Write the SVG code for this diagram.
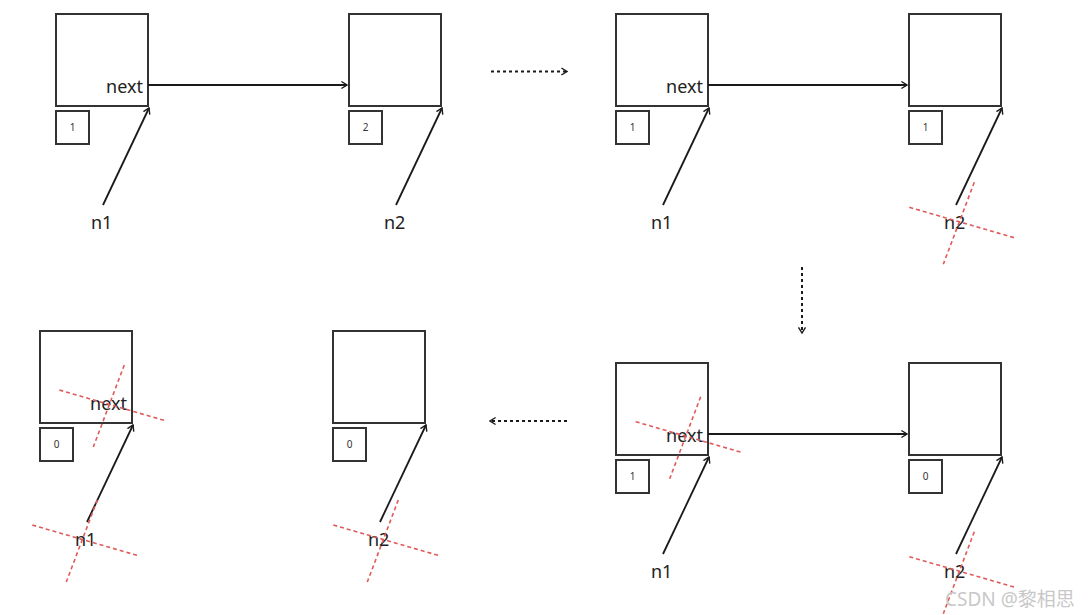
<svg xmlns="http://www.w3.org/2000/svg" width="1089" height="615" viewBox="0 0 1089 615">
<style>
.box{fill:#fff;stroke:#333;stroke-width:2}
.sbox{fill:#fff;stroke:#333;stroke-width:2}
.lbl{font-family:"Noto Sans","DejaVu Sans",sans-serif;font-size:18px;fill:#222}
.sm{font-family:"Noto Sans","DejaVu Sans",sans-serif;font-size:10px;fill:#333;text-anchor:middle}
.ar{stroke:#1a1a1a;stroke-width:1.8;fill:none;marker-end:url(#ah)}
.dot{stroke:#1a1a1a;stroke-width:2;fill:none;stroke-dasharray:3 3;marker-end:url(#ah)}
.x{stroke:#e05a5a;stroke-width:1.6;stroke-dasharray:4 3;fill:none}
.wm{font-family:"Noto Sans","Noto Sans CJK SC",sans-serif;font-size:19px;fill:#c8c8c8}
</style>
<defs>
<marker id="ah" viewBox="0 0 10 12" refX="9" refY="6" markerWidth="7" markerHeight="11" markerUnits="userSpaceOnUse" orient="auto">
<path d="M1,1 L9,6 L1,11" fill="none" stroke="#1a1a1a" stroke-width="2"/>
</marker>
<g id="cross">
<line class="x" x1="0" y1="0" x2="107" y2="31"/>
<line class="x" x1="65" y1="-25" x2="34" y2="57"/>
</g>
</defs>

<!-- Panel 1 -->
<g id="p1-node1">
<rect class="box" x="56" y="14" width="92" height="92"/>
<text class="lbl" x="143" y="93" text-anchor="end">next</text>
<rect class="sbox" x="56" y="111" width="33" height="33"/>
<text class="sm" x="72.5" y="131">1</text>
</g>
<g id="p1-node2">
<rect class="box" x="349" y="14" width="92" height="92"/>
<rect class="sbox" x="349" y="111" width="33" height="33"/>
<text class="sm" x="365.5" y="131">2</text>
</g>
<g id="p1-n1"><text class="lbl" x="91" y="229">n1</text></g>
<g id="p1-n2"><text class="lbl" x="384" y="229">n2</text></g>

<!-- Panel 2 -->
<g id="p2-node1">
<rect class="box" x="616" y="14" width="92" height="92"/>
<text class="lbl" x="703" y="93" text-anchor="end">next</text>
<rect class="sbox" x="616" y="111" width="33" height="33"/>
<text class="sm" x="632.5" y="131">1</text>
</g>
<g id="p2-node2">
<rect class="box" x="909" y="14" width="92" height="92"/>
<rect class="sbox" x="909" y="111" width="33" height="33"/>
<text class="sm" x="925.5" y="131">1</text>
</g>
<g id="p2-n1"><text class="lbl" x="651" y="229">n1</text></g>
<g id="p2-n2"><text class="lbl" x="944" y="229">n2</text></g>

<!-- Panel 3 -->
<g id="p3-node1">
<rect class="box" x="616" y="363" width="92" height="92"/>
<text class="lbl" x="703" y="442" text-anchor="end">next</text>
<rect class="sbox" x="616" y="460" width="33" height="33"/>
<text class="sm" x="632.5" y="480">1</text>
</g>
<g id="p3-node2">
<rect class="box" x="909" y="363" width="92" height="92"/>
<rect class="sbox" x="909" y="460" width="33" height="33"/>
<text class="sm" x="925.5" y="480">0</text>
</g>
<g id="p3-n1"><text class="lbl" x="651" y="578">n1</text></g>
<g id="p3-n2"><text class="lbl" x="944" y="578">n2</text></g>

<!-- Panel 4 -->
<g id="p4-node1">
<rect class="box" x="40" y="331" width="92" height="92"/>
<text class="lbl" x="127" y="410" text-anchor="end">next</text>
<rect class="sbox" x="40" y="428" width="33" height="33"/>
<text class="sm" x="56.5" y="448">0</text>
</g>
<g id="p4-node2">
<rect class="box" x="333" y="331" width="92" height="92"/>
<rect class="sbox" x="333" y="428" width="33" height="33"/>
<text class="sm" x="349.5" y="448">0</text>
</g>
<g id="p4-n1"><text class="lbl" x="75" y="546">n1</text></g>
<g id="p4-n2"><text class="lbl" x="368" y="546">n2</text></g>

<g id="connectors">
<line class="ar" x1="148" y1="85" x2="347" y2="85"/>
<line class="ar" x1="103" y1="205" x2="149" y2="108"/>
<line class="ar" x1="396" y1="205" x2="442" y2="108"/>
<line class="dot" x1="491" y1="71.5" x2="567" y2="71.5"/>

<line class="ar" x1="708" y1="85" x2="907" y2="85"/>
<line class="ar" x1="663" y1="205" x2="709" y2="108"/>
<line class="ar" x1="956" y1="205" x2="1002" y2="108"/>

<line class="dot" x1="802" y1="267" x2="802" y2="333"/>

<line class="ar" x1="708" y1="434" x2="907" y2="434"/>
<line class="ar" x1="663" y1="554" x2="709" y2="457"/>
<line class="ar" x1="956" y1="554" x2="1002" y2="457"/>

<line class="dot" x1="567" y1="421" x2="490" y2="421"/>

<line class="ar" x1="87" y1="522" x2="133" y2="425"/>
<line class="ar" x1="380" y1="522" x2="426" y2="425"/>
</g>

<g id="crosses">
<use href="#cross" x="909.3" y="207.3"/>
<use href="#cross" x="635.7" y="421.7"/>
<use href="#cross" x="909.3" y="556.7"/>
<use href="#cross" x="59.3" y="390"/>
<use href="#cross" x="32.3" y="525"/>
<use href="#cross" x="333.3" y="525"/>
</g>

<text class="wm" x="945" y="606">CSDN @黎相思</text>
</svg>
